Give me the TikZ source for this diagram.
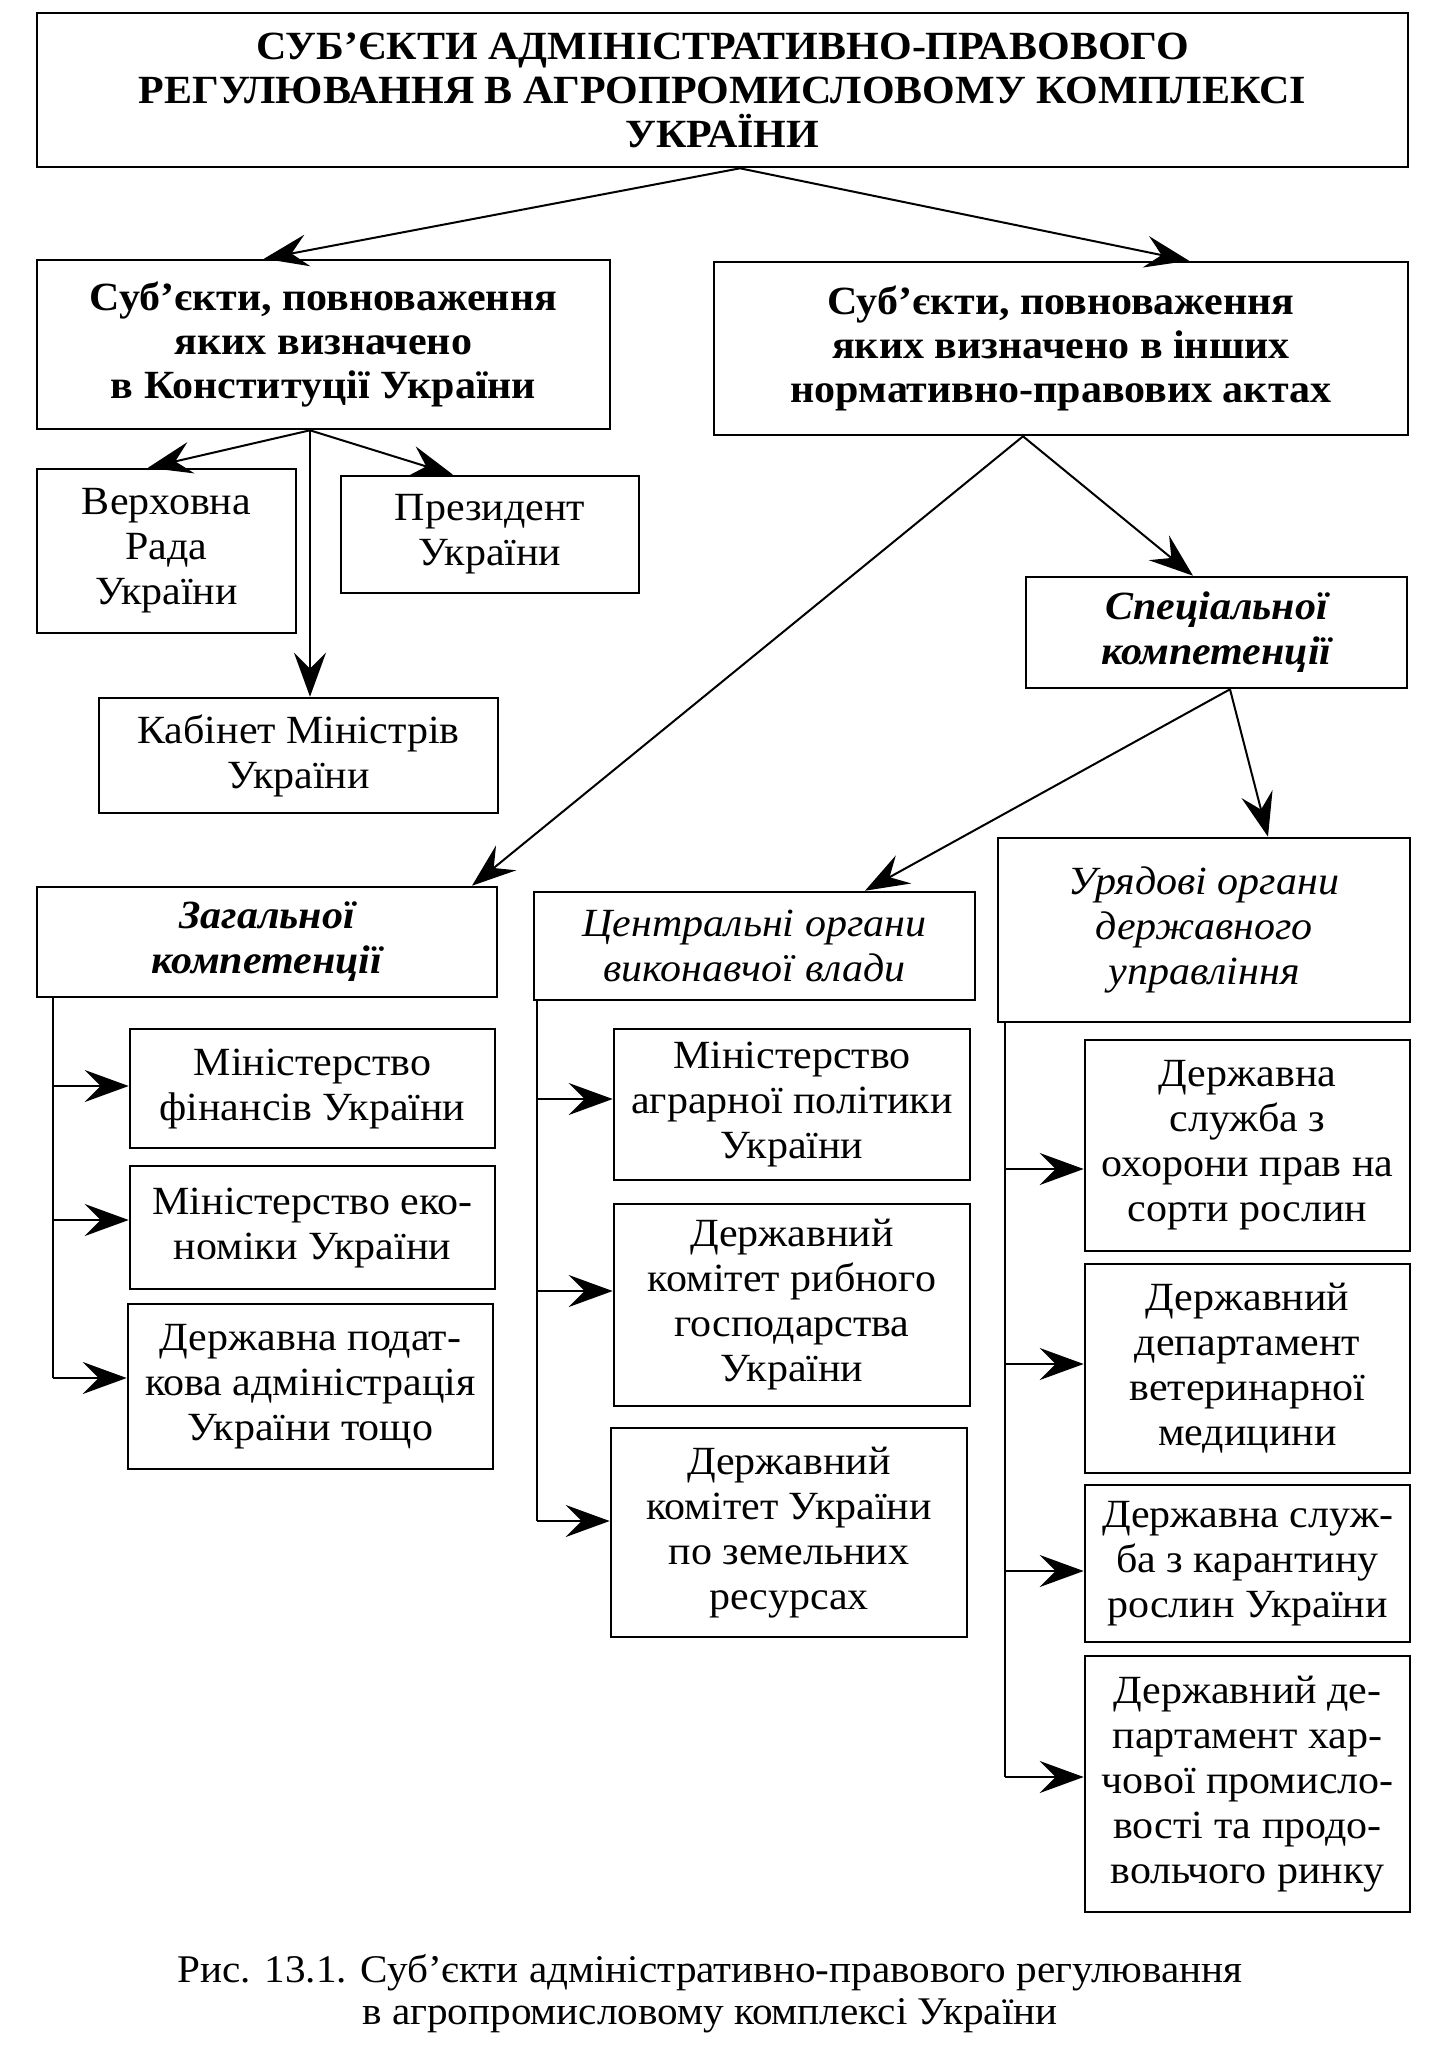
\documentclass[tikz,border=0pt]{standalone}
\usepackage{fontspec}
\setmainfont{Liberation Serif}[FakeStretch=1.05]
\usetikzlibrary{arrows.meta}
\tikzset{
  >={Stealth[length=22pt,width=16pt,inset=8pt]}, % swept arrow heads
  basic/.style={draw,line width=1.3pt,align=center,inner sep=2pt,
                font=\fontsize{20}{22.5}\selectfont},
  boxsize/.style 2 args={minimum width=#1*0.5pt,minimum height=#2*0.5pt},
  head/.style={basic,font=\fontsize{20}{22}\selectfont\bfseries},
  kind/.style={basic,font=\fontsize{20}{22.5}\selectfont\bfseries\itshape},
  organ/.style={basic,font=\fontsize{20}{22.5}\selectfont\itshape},
  connect/.style={line width=1pt}
}

\begin{document}
\begin{tikzpicture}[x=0.5pt,y=-0.5pt]
  \useasboundingbox (0,0) rectangle (1451,2053);

  % Draw heading boxes
  \node[head,boxsize={1371}{154}] (title) at (722.5,90)
    {СУБ’ЄКТИ АДМІНІСТРАТИВНО-ПРАВОВОГО\\РЕГУЛЮВАННЯ В АГРОПРОМИСЛОВОМУ КОМПЛЕКСІ\\УКРАЇНИ};
  \node[head,boxsize={573}{169}] (const) at (323.5,344.5)
    {Суб’єкти, повноваження\\яких визначено\\в Конституції України};
  \node[head,boxsize={694}{173}] (acts) at (1061,348.5)
    {Суб’єкти, повноваження\\яких визначено в інших\\нормативно-правових актах};

  % Constitutional subjects
  \node[basic,boxsize={259}{164}] (rada) at (166.5,551) {Верховна\\Рада\\України};
  \node[basic,boxsize={298}{117}] (prez) at (490,534.5) {Президент\\України};
  \node[basic,boxsize={399}{115}] (kabmin) at (298.5,755.5) {Кабінет Міністрів\\України};

  % Competence boxes
  \node[kind,boxsize={381}{111}] (spec) at (1216.5,632.5) {Спеціальної\\компетенції};
  \node[kind,boxsize={460}{110}] (zah) at (267,942) {Загальної\\компетенції};
  \node[organ,boxsize={441}{108}] (tsentr) at (754.5,946) {Центральні органи\\виконавчої влади};
  \node[organ,boxsize={412}{184}] (uriad) at (1204,930) {Урядові органи\\державного\\управління};

  % Left column
  \node[basic,boxsize={365}{119}] (minfin) at (312.5,1088.5) {Міністерство\\фінансів України};
  \node[basic,boxsize={365}{123}] (mineko) at (312.5,1227.5) {Міністерство еко-\\номіки України};
  \node[basic,boxsize={365}{165}] (dpa) at (310.5,1386.5) {Державна подат-\\кова адміністрація\\України тощо};

  % Middle column
  \node[basic,boxsize={356}{151}] (minagr) at (792,1104.5) {Міністерство\\аграрної політики\\України};
  \node[basic,boxsize={356}{202}] (dkryb) at (792,1305) {Державний\\комітет рибного\\господарства\\України};
  \node[basic,boxsize={356}{209}] (dkzem) at (789,1532.5) {Державний\\комітет України\\по земельних\\ресурсах};

  % Right column
  \node[basic,boxsize={325}{211}] (dsokh) at (1247.5,1145.5) {Державна\\служба з\\охорони прав на\\сорти рослин};
  \node[basic,boxsize={325}{209}] (ddvet) at (1247.5,1368.5) {Державний\\департамент\\ветеринарної\\медицини};
  \node[basic,boxsize={325}{157}] (dskar) at (1247.5,1563.5) {Державна служ-\\ба з карантину\\рослин України};
  \node[basic,boxsize={325}{256}] (ddkh) at (1247.5,1784) {Державний де-\\партамент хар-\\чової промисло-\\вості та продо-\\вольчого ринку};

  % Caption
  \node[align=center,font=\fontsize{19.6}{21}\selectfont] (caption) at (710,1994)
    {Рис. 13.1. Суб’єкти адміністративно-правового регулювання\\в агропромисловому комплексі України};

  % Draw edges between the levels
  \draw[connect,->] (title.south -| 740,0) -- (const.north -| 264,0);
  \draw[connect,->] (title.south -| 740,0) -- (acts.north -| 1189,0);
  \foreach \n/\x in {rada/148,prez/453,kabmin/310}{%
    \draw[connect,->] (const.south -| 310,0) -- (\n.north -| \x,0);
  }
  \draw[connect,->] (acts.south -| 1023,0) -- (spec.north -| 1193,0);
  \draw[connect,->] (acts.south -| 1023,0) -- (zah.north -| 472,0);
  \draw[connect,->] (spec.south -| 1230,0) -- (tsentr.north -| 865,0);
  \draw[connect,->] (spec.south -| 1230,0) -- (uriad.north -| 1268,0);

  % Rails down each column with their arrows
  \draw[connect] (zah.south -| 53,0) -- (53,1378);
  \foreach \n/\y in {minfin/1086,mineko/1220,dpa/1378}{%
    \draw[connect,->] (53,\y) -- (\n.west |- 0,\y);
  }
  \draw[connect] (tsentr.south -| 537,0) -- (537,1521);
  \foreach \n/\y in {minagr/1099,dkryb/1291,dkzem/1521}{%
    \draw[connect,->] (537,\y) -- (\n.west |- 0,\y);
  }
  \draw[connect] (uriad.south -| 1005,0) -- (1005,1777);
  \foreach \n/\y in {dsokh/1169,ddvet/1364,dskar/1571,ddkh/1777}{%
    \draw[connect,->] (1005,\y) -- (\n.west |- 0,\y);
  }
\end{tikzpicture}
\end{document}
